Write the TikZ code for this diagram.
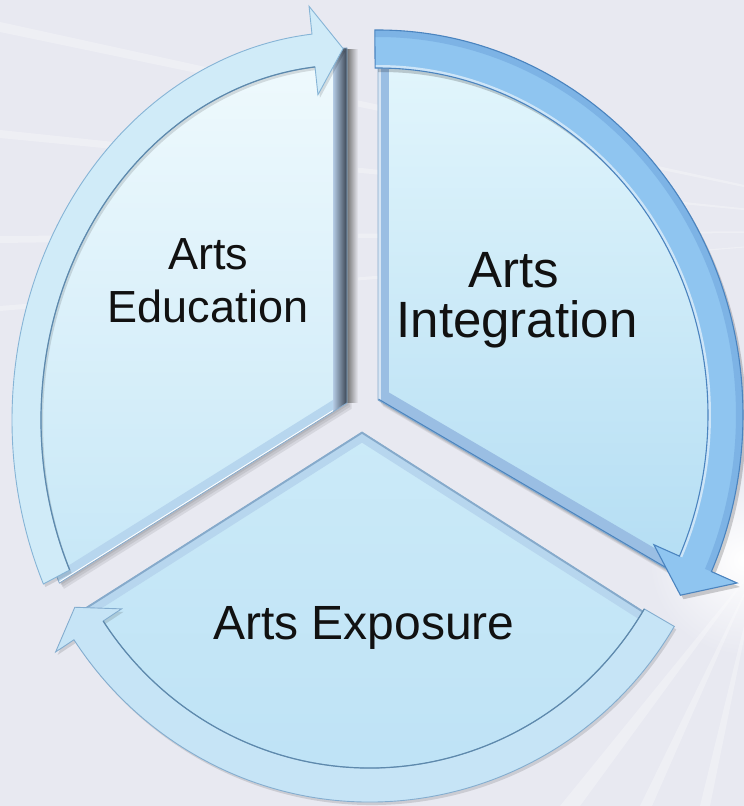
\documentclass[tikz,border=0pt]{standalone}
\usepackage{fontspec}
\setmainfont{Liberation Sans}
\usetikzlibrary{calc}

\definecolor{bgc}{HTML}{E8E9F1}
\definecolor{segLtop}{HTML}{F0FAFD}
\definecolor{segLbot}{HTML}{C6E7F7}
\definecolor{segRtop}{HTML}{E3F6FC}
\definecolor{segRbot}{HTML}{B3DDF3}
\definecolor{segBtop}{HTML}{CBEAF8}
\definecolor{segBbot}{HTML}{BCE1F5}
\definecolor{segline}{HTML}{86AACB}
\definecolor{arrLfill}{HTML}{D0EBF8}
\definecolor{arrLline}{HTML}{86B4D6}
\definecolor{arrRfill}{HTML}{8FC5F0}
\definecolor{arrRrim}{HTML}{7DB3E5}
\definecolor{arrRline}{HTML}{4B84BF}
\definecolor{arrBfill}{HTML}{C6E4F6}
\definecolor{arrBline}{HTML}{84ADCF}
\definecolor{ringinner}{HTML}{5E89AC}
\definecolor{bevlight}{HTML}{B4CBE4}
\definecolor{bevdark}{HTML}{3A4452}
\definecolor{bevblue}{HTML}{9ABEE3}
\definecolor{bevpale}{HTML}{B7D6EE}
\definecolor{txt}{HTML}{111111}

% pie slice: apex, ellipse centre, radii, start and end parameter
\newcommand\slicepath[6]{(#1) -- ($(#2)+({#3*cos(#5)},{#4*sin(#5)})$)
  arc[start angle=#5,end angle=#6,x radius=#3,y radius=#4] -- cycle}

% curved block arrow on an elliptic ring:
% centre, inner a/b, outer a/b, tail, head base, tip parameter, barb length
\newcommand\ringarrow[9]{($(#1)+({#4*cos(#6)},{#5*sin(#6)})$)
  arc[start angle=#6,end angle=#7,x radius=#4,y radius=#5]
  -- ($(#1)+({(#4+#9)*cos(#7)},{(#5+#9)*sin(#7)})$)
  -- ($(#1)+({(#2+#4)/2*cos(#8)},{(#3+#5)/2*sin(#8)})$)
  -- ($(#1)+({(#2-#9)*cos(#7)},{(#3-#9)*sin(#7)})$)
  -- ($(#1)+({#2*cos(#7)},{#3*sin(#7)})$)
  arc[start angle=#7,end angle=#6,x radius=#2,y radius=#3] -- cycle}

\tikzset{
  lbl/.style={text=txt, inner sep=0pt, anchor=base},
  ray/.style={white, opacity=.28},
}

\begin{document}
\begin{tikzpicture}[x=1pt,y=1pt]
\useasboundingbox (0,0) rectangle (744,806);
\fill[bgc] (0,0) rectangle (744,806);

% soft light behind the lower right
\shade[inner color=white, outer color=bgc] (744,246) circle (95);

% faint light streaks
\fill[ray] (950,576) -- (0,784) -- (0,774) -- cycle;
\fill[ray] (950,576) -- (0,676) -- (0,668) -- cycle;
\fill[ray] (950,576) -- (0,570) -- (0,563) -- cycle;
\fill[ray] (950,576) -- (0,500) -- (0,495) -- cycle;
\fill[ray] (760,246) -- (560,0) -- (580,0) -- cycle;
\fill[ray] (760,246) -- (640,0) -- (652,0) -- cycle;
\fill[ray] (760,246) -- (700,0) -- (710,0) -- cycle;

% ellipse centres and slice apexes
\coordinate (lc) at (347,386);
\coordinate (rc) at (378,391);
\coordinate (bc) at (370,366);
\coordinate (L) at (347,403);
\coordinate (R) at (378,406);
\coordinate (B) at (362,374);
\coordinate (Lt) at ($(lc)+(0,372)$);
\coordinate (Le) at ($(lc)+({320*cos(206)},{372*sin(206)})$);
\coordinate (Rt) at ($(rc)+(0,366)$);
\coordinate (Re) at ($(rc)+({347*cos(-27)},{366*sin(-27)})$);
\coordinate (Bl) at ($(bc)+({337*cos(210)},{345*sin(210)})$);
\coordinate (Br) at ($(bc)+({337*cos(328.5)},{345*sin(328.5)})$);

% drop shadows of the slices
\foreach \d in {1.5,3,4.5}{
  \begin{scope}[transform canvas={shift={(\d,-1.3*\d)}}]
    \fill[black,opacity=.08] \slicepath{L}{lc}{320}{372}{90}{206};
    \fill[black,opacity=.08] \slicepath{R}{rc}{347}{366}{90}{-27};
    \fill[black,opacity=.08] \slicepath{B}{bc}{337}{345}{210}{328.5};
  \end{scope}
}
% dark shade right of the left slice
\shade[left color=black!55, right color=bgc] (347,403) rectangle (358,756);

% left slice
\shade[top color=segLtop, bottom color=segLbot] \slicepath{L}{lc}{320}{372}{90}{206};
\begin{scope}
  \clip \slicepath{L}{lc}{320}{372}{90}{206};
  \draw[line width=20, bevpale] (L) -- (Le);
  \draw[line width=3, white] (L) -- (Le);
  \shade[left color=bevlight, right color=bevdark] (333,380) rectangle (347,770);
\end{scope}
\draw[segline, line width=.8] \slicepath{L}{lc}{320}{372}{90}{206};

% right slice
\shade[top color=segRtop, bottom color=segRbot] \slicepath{R}{rc}{347}{366}{90}{-27};
\begin{scope}
  \clip \slicepath{R}{rc}{347}{366}{90}{-27};
  \draw[line width=24, bevblue] (R) -- (Re);
  \draw[line width=22, bevblue] (R) -- (Rt);
  \draw[line width=6, white!60!bevblue] (R) -- (Rt);
  \draw[line width=3, arrRline] (R) -- (Re);
\end{scope}
\draw[segline, line width=.8] \slicepath{R}{rc}{347}{366}{90}{-27};

% bottom slice
\shade[top color=segBtop, bottom color=segBbot] \slicepath{B}{bc}{337}{345}{210}{328.5};
\begin{scope}
  \clip \slicepath{B}{bc}{337}{345}{210}{328.5};
  \draw[line width=18, bevpale] (B) -- (Bl);
  \draw[line width=18, bevpale] (B) -- (Br);
  \draw[line width=3, segline] (B) -- (Bl);
  \draw[line width=3, segline] (B) -- (Br);
\end{scope}
\draw[segline, line width=.8] \slicepath{B}{bc}{337}{345}{210}{328.5};

% left arrow (Arts Education -> Arts Integration)
\begin{scope}[transform canvas={shift={(2,-3)}}]
  \fill[black,opacity=.12] \ringarrow{lc}{306}{355}{335}{388}{205}{96}{90.7}{28};
\end{scope}
\fill[arrLfill, draw=arrLline, line width=.9] \ringarrow{lc}{306}{355}{335}{388}{205}{96}{90.7}{28};
\draw[ringinner, line width=1.2] ($(lc)+({306*cos(205)},{355*sin(205)})$)
  arc[start angle=205,end angle=96,x radius=306,y radius=355];

% right arrow (Arts Integration -> Arts Exposure)
\begin{scope}[transform canvas={shift={(3,-4)}}]
  \fill[black,opacity=.18] \ringarrow{rc}{330}{347}{365}{385}{90.5}{-24}{-29.5}{28};
\end{scope}
\fill[arrRfill] \ringarrow{rc}{330}{347}{365}{385}{90.5}{-24}{-29.5}{28};
\begin{scope}
  \clip \ringarrow{rc}{330}{347}{365}{385}{90.5}{-24}{-29.5}{28};
  \draw[arrRrim, line width=14] ($(rc)+({365*cos(90.5)},{385*sin(90.5)})$)
    arc[start angle=90.5,end angle=-24,x radius=365,y radius=385];
  \draw[white!55!arrRfill, line width=6] ($(rc)+({330*cos(90.5)},{347*sin(90.5)})$)
    arc[start angle=90.5,end angle=-24,x radius=330,y radius=347];
\end{scope}
\draw[arrRline, line width=1.1] \ringarrow{rc}{330}{347}{365}{385}{90.5}{-24}{-29.5}{28};

% bottom arrow (Arts Exposure -> Arts Education)
\begin{scope}[transform canvas={shift={(2,-3)}}]
  \fill[black,opacity=.12] \ringarrow{bc}{320}{328}{355}{362}{329}{213.5}{209}{22};
\end{scope}
\fill[arrBfill, draw=arrBline, line width=.9] \ringarrow{bc}{320}{328}{355}{362}{329}{213.5}{209}{22};
\draw[ringinner, line width=1.2] ($(bc)+({320*cos(329)},{328*sin(329)})$)
  arc[start angle=329,end angle=213.5,x radius=320,y radius=328];

% labels
\node[lbl, font=\fontsize{45}{54}\selectfont] (eduA) at (208,536) {Arts};
\node[lbl, font=\fontsize{45}{54}\selectfont] (eduB) at (208,483) {Education};
\node[lbl, font=\fontsize{51}{60}\selectfont] (intA) at (514,518) {Arts};
\node[lbl, font=\fontsize{51}{60}\selectfont] (intB) at (517,468) {Integration};
\node[lbl, font=\fontsize{48}{56}\selectfont] (expo) at (364,166) {Arts Exposure};
\end{tikzpicture}
\end{document}
